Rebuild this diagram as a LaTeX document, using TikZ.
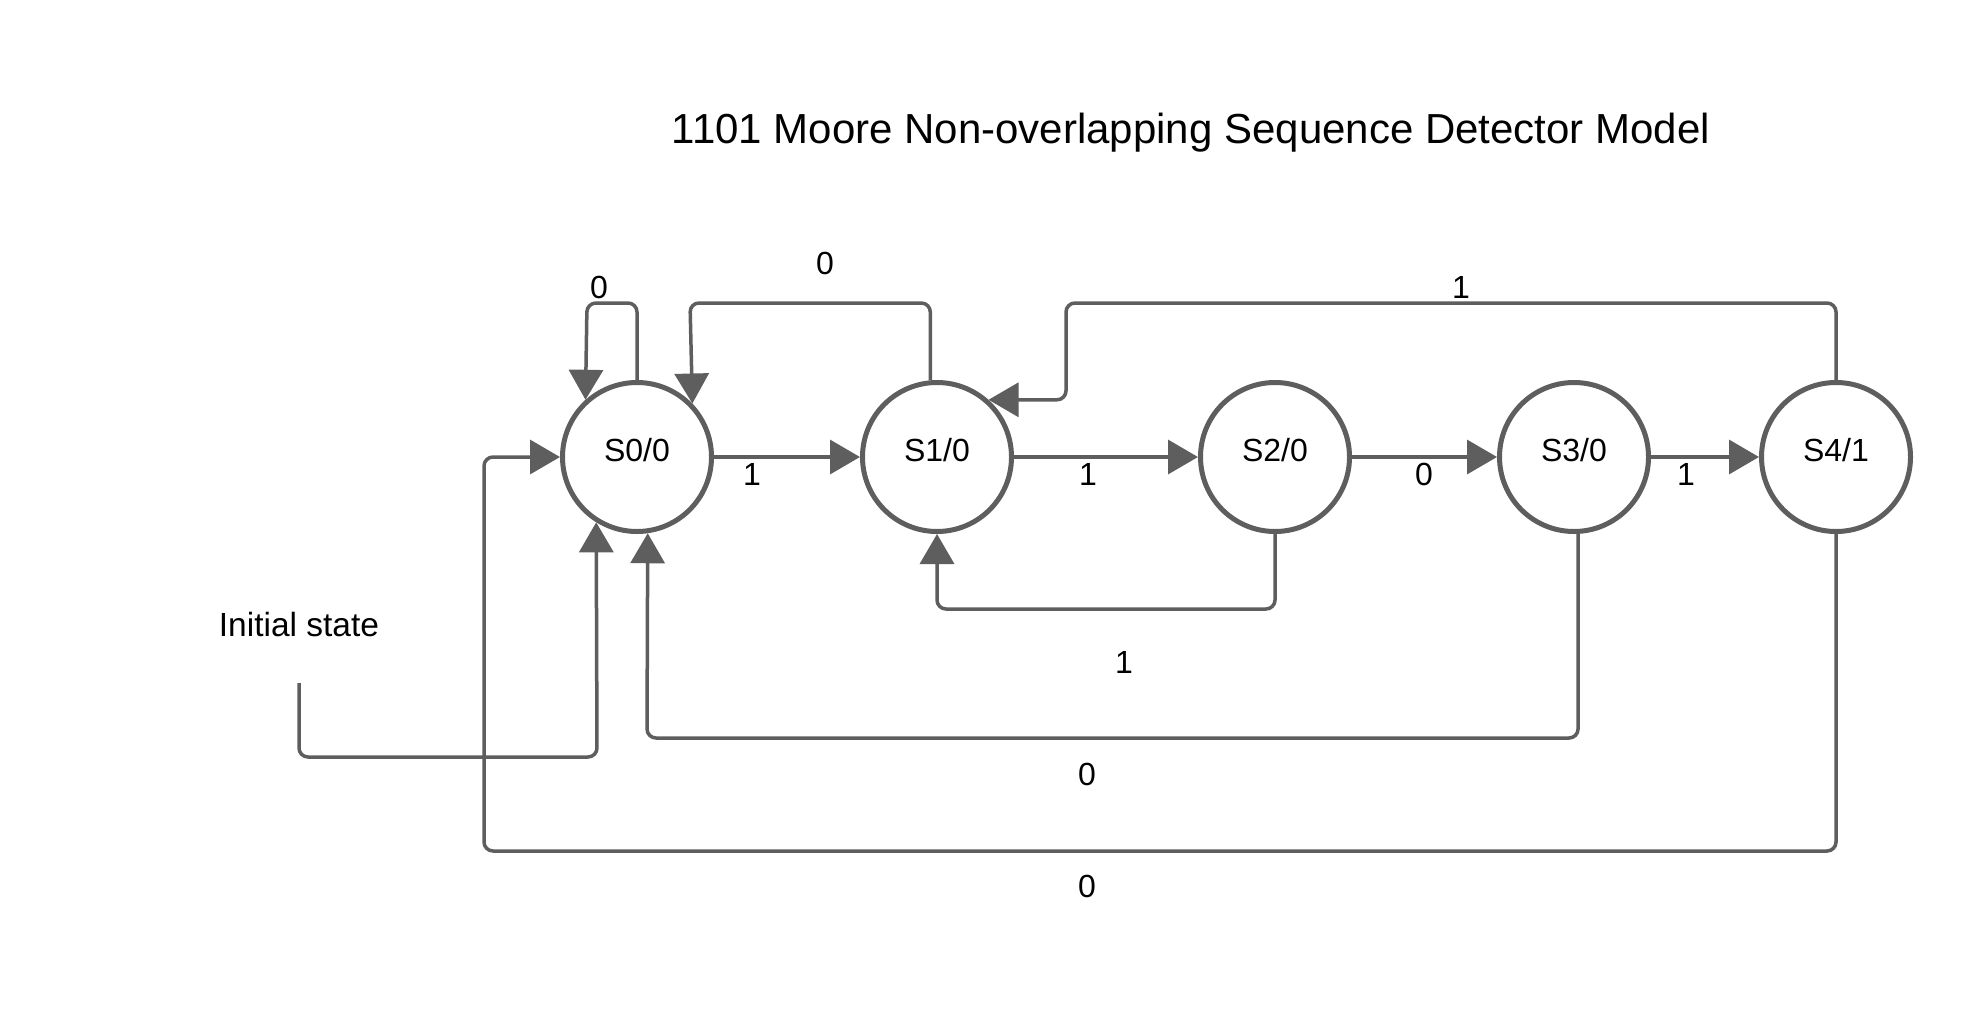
\documentclass[tikz,border=0pt]{standalone}
\usepackage{fontspec}
\setmainfont{Liberation Sans}
\usetikzlibrary{arrows.meta}
\definecolor{lc}{RGB}{94,94,94}
\begin{document}
\begin{tikzpicture}[x=1pt,y=-1pt,
  state/.style={circle,draw=lc,line width=5pt,minimum size=149pt,inner sep=0pt,text height=23pt,text depth=14pt,font=\fontsize{32}{38}\selectfont},
  conn/.style={draw=lc,line width=3.5pt,rounded corners=9pt,-{Triangle[length=30pt,width=34pt]}},
  lab/.style={font=\fontsize{32}{38}\selectfont,inner sep=0pt}]
\useasboundingbox[fill=white] (0,0) rectangle (1988,1020);

\node[font=\fontsize{42}{50}\selectfont,anchor=base,inner sep=0pt] (title) at (1191,143) {1101 Moore Non-overlapping Sequence Detector Model};

\node[state] (S0) at (637,457) {S0/0};
\node[state] (S1) at (937,457) {S1/0};
\node[state] (S2) at (1275,457) {S2/0};
\node[state] (S3) at (1574,457) {S3/0};
\node[state] (S4) at (1836,457) {S4/1};

% forward transitions
\draw[conn] (S0) -- (S1);
\draw[conn] (S1) -- (S2);
\draw[conn] (S2) -- (S3);
\draw[conn] (S3) -- (S4);
\node[lab] (l01) at (752,474) {1};
\node[lab] (l12) at (1088,474) {1};
\node[lab] (l23) at (1424,474) {0};
\node[lab] (l34) at (1686,474) {1};

% self loop on S0
\draw[conn] (S0.north) |- (587,303) -- (S0.132.2);
\node[lab] (l00) at (599,287) {0};

% S1 -> S0 on 0
\draw[conn] (S1.95) |- (690,303) -- (S0.44.7);
\node[lab] (l10) at (825,263) {0};

% S4 -> S1 on 1
\draw[conn] (S4.north) |- (1066,303) |- (S1.48.7);
\node[lab] (l41) at (1461,287) {1};

% S2 -> S1 on 1
\draw[conn] (S2.south) |- (937,609) -- (S1.south);
\node[lab] (l21) at (1124,662) {1};

% S3 -> S0 on 0
\draw[conn] (S3.-87) |- (647,738) -- (S0.-82.3);
\node[lab] (l30) at (1087,774) {0};

% S4 -> S0 on 0
\draw[conn] (S4.south) |- (484,851) |- (S0.west);
\node[lab] (l40) at (1087,886) {0};

% initial state
\node[lab,anchor=base,font=\fontsize{33.5}{40}\selectfont] (init) at (299,636) {Initial state};
\coordinate (i0) at (299,683);
\draw[conn] (i0) |- (597,757) -- (S0.-122.5);
\end{tikzpicture}
\end{document}
